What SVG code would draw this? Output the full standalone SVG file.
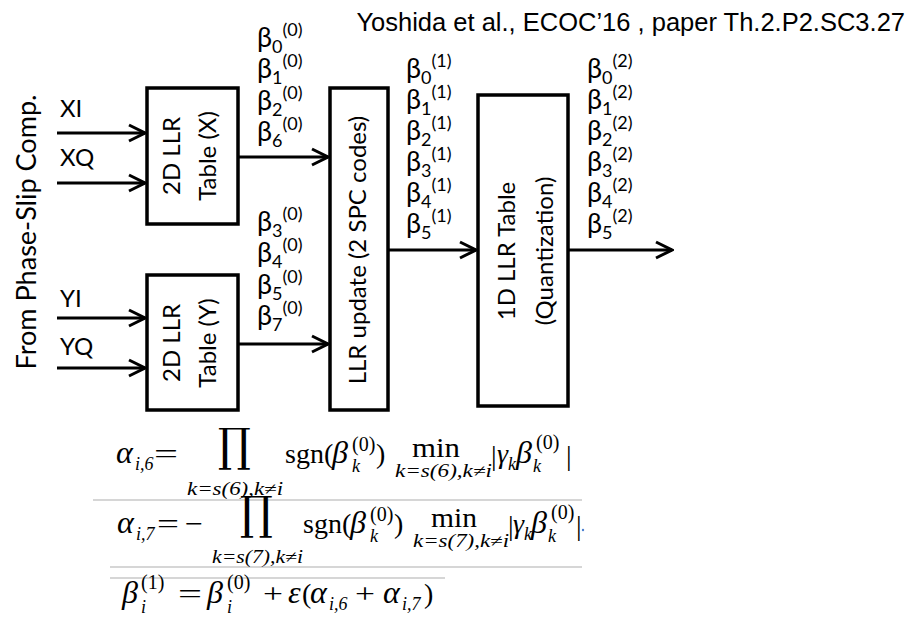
<svg xmlns="http://www.w3.org/2000/svg" width="913" height="617" viewBox="0 0 913 617">
<defs>
<style>
.box{fill:#fff;stroke:#000;stroke-width:3.5}
.ln{stroke:#000;stroke-width:3;fill:none}
.lbl{font-family:Lato,'Noto Sans',sans-serif;font-size:24px;fill:#000}
.beta{font-family:Lato,'Noto Sans',sans-serif;font-size:27px;fill:#000}
.title{font-family:'Liberation Sans',Arial,sans-serif;font-size:25.5px;fill:#000}
.m{font-family:'Liberation Serif','DejaVu Serif',serif;font-size:28px;fill:#000}
.mi{font-family:'Liberation Serif','DejaVu Serif',serif;font-size:28px;font-style:italic;fill:#000}
.mg{font-family:'Liberation Serif','DejaVu Serif',serif;font-size:32px;font-style:italic;fill:#000}
.ms{font-family:'Liberation Serif','DejaVu Serif',serif;font-size:18px;font-style:italic;fill:#000}
.msr{font-family:'Liberation Serif','DejaVu Serif',serif;font-size:20px;fill:#000}
.prod{font-family:'DejaVu Serif',serif;font-size:46px;fill:#000}
.sep{stroke:#c8c8c8;stroke-width:1.3}
</style>
<marker id="arr" viewBox="0 0 20 20" refX="18" refY="10" markerWidth="20" markerHeight="20" markerUnits="userSpaceOnUse" orient="auto">
<path d="M2,2 L18,10 L2,18" fill="none" stroke="#000" stroke-width="3"/>
</marker>
</defs>
<rect width="913" height="617" fill="#fff"/>

<text class="title" x="905" y="31" text-anchor="end">Yoshida et al., ECOC’16 , paper Th.2.P2.SC3.27</text>

<text class="lbl" style="font-size:27px" transform="translate(36,232) rotate(-90)" text-anchor="middle" textLength="275" lengthAdjust="spacingAndGlyphs">From Phase-Slip Comp.</text>

<g id="connectors">
<line class="ln" x1="57" y1="133" x2="145" y2="133" marker-end="url(#arr)"/>
<line class="ln" x1="57" y1="183" x2="145" y2="183" marker-end="url(#arr)"/>
<line class="ln" x1="57" y1="318" x2="145" y2="318" marker-end="url(#arr)"/>
<line class="ln" x1="57" y1="368" x2="145" y2="368" marker-end="url(#arr)"/>
<line class="ln" x1="238" y1="157" x2="328" y2="157" marker-end="url(#arr)"/>
<line class="ln" x1="238" y1="344" x2="328" y2="344" marker-end="url(#arr)"/>
<line class="ln" x1="388" y1="250" x2="476" y2="250" marker-end="url(#arr)"/>
<line class="ln" x1="568" y1="250" x2="672" y2="250" marker-end="url(#arr)"/>
</g>

<g id="input-labels">
<text class="lbl" x="60" y="117">XI</text>
<text class="lbl" x="60" y="166">XQ</text>
<text class="lbl" x="60" y="307">YI</text>
<text class="lbl" x="60" y="355">YQ</text>
</g>

<g id="llr2d-x">
<rect class="box" x="147" y="88" width="91" height="136"/>
<text class="lbl" transform="translate(180,156) rotate(-90)" text-anchor="middle">2D LLR</text>
<text class="lbl" transform="translate(216,156) rotate(-90)" text-anchor="middle">Table (X)</text>
</g>

<g id="llr2d-y">
<rect class="box" x="147" y="275" width="91" height="135"/>
<text class="lbl" transform="translate(180,343) rotate(-90)" text-anchor="middle">2D LLR</text>
<text class="lbl" transform="translate(216,343) rotate(-90)" text-anchor="middle">Table (Y)</text>
</g>

<g id="llr-update">
<rect class="box" x="330" y="88" width="58" height="322"/>
<text class="lbl" transform="translate(366,250) rotate(-90)" text-anchor="middle">LLR update (2 SPC codes)</text>
</g>

<g id="llr1d">
<rect class="box" x="478" y="95" width="90" height="311"/>
<text class="lbl" transform="translate(515,251) rotate(-90)" text-anchor="middle">1D LLR Table</text>
<text class="lbl" transform="translate(553,251) rotate(-90)" text-anchor="middle">(Quantization)</text>
</g>

<g id="beta0-x">
<text class="beta" x="257" y="47">β<tspan font-size="18" dy="6">0</tspan><tspan font-size="18" dy="-17">(0)</tspan></text>
<text class="beta" x="257" y="78">β<tspan font-size="18" dy="6">1</tspan><tspan font-size="18" dy="-17">(0)</tspan></text>
<text class="beta" x="257" y="110">β<tspan font-size="18" dy="6">2</tspan><tspan font-size="18" dy="-17">(0)</tspan></text>
<text class="beta" x="257" y="141">β<tspan font-size="18" dy="6">6</tspan><tspan font-size="18" dy="-17">(0)</tspan></text>
</g>
<g id="beta0-y">
<text class="beta" x="257" y="231">β<tspan font-size="18" dy="6">3</tspan><tspan font-size="18" dy="-17">(0)</tspan></text>
<text class="beta" x="257" y="262">β<tspan font-size="18" dy="6">4</tspan><tspan font-size="18" dy="-17">(0)</tspan></text>
<text class="beta" x="257" y="294">β<tspan font-size="18" dy="6">5</tspan><tspan font-size="18" dy="-17">(0)</tspan></text>
<text class="beta" x="257" y="325">β<tspan font-size="18" dy="6">7</tspan><tspan font-size="18" dy="-17">(0)</tspan></text>
</g>
<g id="beta1">
<text class="beta" x="406" y="78">β<tspan font-size="18" dy="6">0</tspan><tspan font-size="18" dy="-17">(1)</tspan></text>
<text class="beta" x="406" y="109">β<tspan font-size="18" dy="6">1</tspan><tspan font-size="18" dy="-17">(1)</tspan></text>
<text class="beta" x="406" y="140">β<tspan font-size="18" dy="6">2</tspan><tspan font-size="18" dy="-17">(1)</tspan></text>
<text class="beta" x="406" y="171">β<tspan font-size="18" dy="6">3</tspan><tspan font-size="18" dy="-17">(1)</tspan></text>
<text class="beta" x="406" y="202">β<tspan font-size="18" dy="6">4</tspan><tspan font-size="18" dy="-17">(1)</tspan></text>
<text class="beta" x="406" y="233">β<tspan font-size="18" dy="6">5</tspan><tspan font-size="18" dy="-17">(1)</tspan></text>
</g>
<g id="beta2">
<text class="beta" x="587" y="78">β<tspan font-size="18" dy="6">0</tspan><tspan font-size="18" dy="-17">(2)</tspan></text>
<text class="beta" x="587" y="109">β<tspan font-size="18" dy="6">1</tspan><tspan font-size="18" dy="-17">(2)</tspan></text>
<text class="beta" x="587" y="140">β<tspan font-size="18" dy="6">2</tspan><tspan font-size="18" dy="-17">(2)</tspan></text>
<text class="beta" x="587" y="171">β<tspan font-size="18" dy="6">3</tspan><tspan font-size="18" dy="-17">(2)</tspan></text>
<text class="beta" x="587" y="202">β<tspan font-size="18" dy="6">4</tspan><tspan font-size="18" dy="-17">(2)</tspan></text>
<text class="beta" x="587" y="233">β<tspan font-size="18" dy="6">5</tspan><tspan font-size="18" dy="-17">(2)</tspan></text>
</g>

<g id="equations">
<line class="sep" x1="93" y1="500" x2="582" y2="500"/>
<line class="sep" x1="110" y1="567" x2="582" y2="567"/>
<line class="sep" x1="110" y1="578" x2="445" y2="578"/>

<!-- equation 1 -->
<text class="mg" x="116" y="463">α</text>
<text class="ms" x="135" y="470">i,6</text>
<text class="m" x="154" y="463" textLength="24" lengthAdjust="spacingAndGlyphs">=</text>
<text class="prod" transform="translate(218,461) scale(0.9,1)">∏</text>
<text class="ms" x="187" y="495" textLength="96" lengthAdjust="spacingAndGlyphs">k=s(6),k≠i</text>
<text class="m" x="285" y="463">sgn(</text>
<text class="mg" x="332" y="463">β</text>
<text class="msr" x="352" y="451">(0)</text>
<text class="ms" x="352" y="472">k</text>
<text class="m" x="376" y="463">)</text>
<text class="m" x="412" y="457" textLength="48" lengthAdjust="spacingAndGlyphs">min</text>
<text class="ms" x="395" y="477" textLength="97" lengthAdjust="spacingAndGlyphs">k=s(6),k≠i</text>
<text class="m" x="491" y="465">|</text>
<text class="mi" x="497" y="463">γ</text>
<text class="ms" x="508" y="470">k</text>
<text class="mg" x="516" y="463">β</text>
<text class="msr" x="536" y="449">(0)</text>
<text class="ms" x="533" y="472">k</text>
<text class="m" x="566" y="465">|</text>

<!-- equation 2 -->
<text class="mg" x="117" y="533">α</text>
<text class="ms" x="136" y="540">i,7</text>
<text class="m" x="157" y="533" textLength="22" lengthAdjust="spacingAndGlyphs">=</text>
<text class="m" x="185" y="533" textLength="18" lengthAdjust="spacingAndGlyphs">−</text>
<text class="prod" transform="translate(240,529) scale(0.9,1)">∏</text>
<text class="ms" x="212" y="563" textLength="91" lengthAdjust="spacingAndGlyphs">k=s(7),k≠i</text>
<text class="m" x="303" y="533">sgn(</text>
<text class="mg" x="350" y="533">β</text>
<text class="msr" x="370" y="521">(0)</text>
<text class="ms" x="370" y="542">k</text>
<text class="m" x="394" y="533">)</text>
<text class="m" x="431" y="527" textLength="46" lengthAdjust="spacingAndGlyphs">min</text>
<text class="ms" x="413" y="547" textLength="96" lengthAdjust="spacingAndGlyphs">k=s(7),k≠i</text>
<text class="m" x="508" y="535">|</text>
<text class="mi" x="513" y="533">γ</text>
<text class="ms" x="524" y="540">k</text>
<text class="mg" x="531" y="533">β</text>
<text class="msr" x="551" y="519">(0)</text>
<text class="ms" x="548" y="542">k</text>
<text class="m" x="576" y="535">|</text>
<circle cx="583" cy="530" r="1.2" fill="#4a7fd0"/>

<!-- equation 3 -->
<text class="mg" x="122" y="603">β</text>
<text class="msr" x="141" y="589">(1)</text>
<text class="ms" x="141" y="613">i</text>
<text class="m" x="178" y="603" textLength="24" lengthAdjust="spacingAndGlyphs">=</text>
<text class="mg" x="207" y="603">β</text>
<text class="msr" x="227" y="589">(0)</text>
<text class="ms" x="227" y="613">i</text>
<text class="m" x="263" y="603" textLength="20" lengthAdjust="spacingAndGlyphs">+</text>
<text class="mg" x="288" y="603">ε</text>
<text class="m" x="302" y="603">(</text>
<text class="mg" x="310" y="603">α</text>
<text class="ms" x="329" y="610">i,6</text>
<text class="m" x="355" y="603" textLength="20" lengthAdjust="spacingAndGlyphs">+</text>
<text class="mg" x="383" y="603">α</text>
<text class="ms" x="402" y="610">i,7</text>
<text class="m" x="424" y="603">)</text>
</g>
</svg>
